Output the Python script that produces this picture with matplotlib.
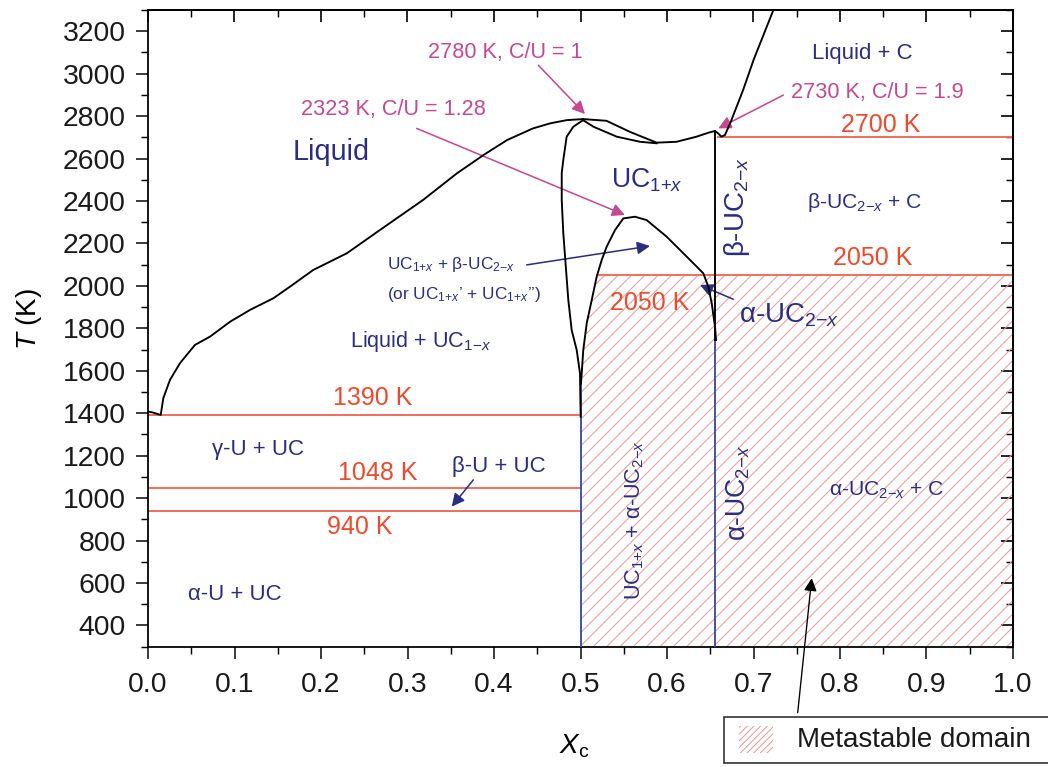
"""U-C phase diagram, T vs X_c, with the metastable domain hatched.

Values read off the reference figure; curves are piecewise linear through
the digitised points.
"""
import numpy as np
import matplotlib
matplotlib.use("Agg")
import matplotlib.pyplot as plt
from matplotlib.patches import Polygon, Rectangle
from matplotlib.ticker import MultipleLocator, FormatStrFormatter

DPI = 80
W_PX, H_PX = 1048, 767

NAVY = "#2b2e7e"
MAGENTA = "#c24a8f"
ORANGE_TXT = "#e94b2e"
ORANGE_LINE = "#f06a55"
BLUE_LINE = "#3e4f9f"
HATCH = "#e49c9c"

# ---------------------------------------------------------------------------
# Digitised data
# ---------------------------------------------------------------------------

# liquidus, U side -> congruent melting of UC (2780 K)
liq_u_x = [0.0, 0.006, 0.0147, 0.0177, 0.0254, 0.037, 0.0543, 0.0717, 0.0948,
           0.118, 0.145, 0.164, 0.191, 0.230, 0.268, 0.318, 0.357, 0.388,
           0.415, 0.445, 0.465, 0.484, 0.503]
liq_u_T = [1408, 1403, 1392, 1471, 1557, 1636, 1722, 1761, 1831,
           1887, 1942, 1996, 2075, 2154, 2263, 2405, 2530, 2617,
           2687, 2742, 2766, 2781, 2786]

# liquidus, C side (through the 2730 K maximum and up to the top)
liq_c_x = [0.503, 0.530, 0.557, 0.588, 0.611, 0.634, 0.648, 0.6555, 0.659,
           0.663, 0.667, 0.673, 0.688, 0.700, 0.723]
liq_c_T = [2786, 2778, 2726, 2675, 2679, 2703, 2722, 2730, 2719,
           2703, 2711, 2766, 2923, 3064, 3300]

# solidus of UC1+x on the C-rich side
sol_r_x = [0.503, 0.515, 0.542, 0.569, 0.588]
sol_r_T = [2781, 2750, 2703, 2679, 2672]

# UC1+x boundary on the U-rich side
uc_l_x = [0.503, 0.4917, 0.484, 0.4801, 0.4783, 0.4783, 0.4801, 0.4859,
          0.4898, 0.4956, 0.4994, 0.5002]
uc_l_T = [2781, 2750, 2703, 2593, 2532, 2405, 2249, 1934,
          1792, 1698, 1588, 1384]

# miscibility dome UC1+x + beta-UC2-x (max 2323 K)
dome_x = [0.5005, 0.5014, 0.5032, 0.5072, 0.513, 0.5187, 0.5245, 0.5303,
          0.5399, 0.5495, 0.563, 0.5765, 0.5996, 0.6188, 0.6343, 0.642,
          0.6478, 0.6517, 0.6555, 0.6567]
dome_T = [1540, 1588, 1698, 1824, 1934, 2043, 2122, 2185,
          2263, 2318, 2326, 2310, 2232, 2154, 2091, 2059,
          1996, 1918, 1808, 1745]

# UC2-x boundary (black above, blue line compound below)
uc2_x = 0.656
uc2_T_top, uc2_T_bot = 2730, 1745
uc_blue_T = 1549

# isotherms
iso_T = [1390, 1048, 940, 2050, 2700]
iso_x0 = [0.0, 0.0, 0.0, 0.5191, 0.659]
iso_x1 = [0.5, 0.5, 0.5, 1.0, 1.0]

T_MIN, T_MAX = 300, 3300

SUB_P = r"$_{1{+}x}$"
SUB_M = r"$_{2{-}x}$"
SUB_UM = r"$_{1{-}x}$"


def arrow(ax, tail, tip, color, lw=1.4, scale=24, clip=True):
    ax.annotate("", xy=tip, xytext=tail, annotation_clip=clip,
                arrowprops=dict(arrowstyle="-|>", color=color, lw=lw,
                                mutation_scale=scale, shrinkA=0, shrinkB=0))


def label(ax, x, y, s, color, size, **kw):
    ax.text(x, y, s, color=color, fontsize=size, ha=kw.pop("ha", "center"),
            va="center", zorder=6, **kw)


def main():
    plt.rcParams.update({
        "font.family": ["Liberation Sans", "DejaVu Sans"],
        "mathtext.fontset": "custom",
        "mathtext.rm": "Liberation Sans",
        "mathtext.it": "Liberation Sans:italic",
        "mathtext.bf": "Liberation Sans:bold",
        "mathtext.sf": "Liberation Sans",
        "hatch.linewidth": 0.9,
        "hatch.color": HATCH,
    })

    fig = plt.figure(figsize=(W_PX / DPI, H_PX / DPI), dpi=DPI)
    ax = fig.add_axes([148 / W_PX, 120.3 / H_PX, 865 / W_PX, 636.7 / H_PX])
    ax.set_xlim(0, 1)
    ax.set_ylim(T_MIN, T_MAX)

    # metastable domain: below 2050 K, right of the dome / x = 0.5
    left = [(x, t) for x, t in zip(dome_x, dome_T) if t <= 2050 and x < 0.55]
    x2050 = np.interp(2050, dome_T[:10], dome_x[:10])
    poly = ([(x2050, 2050)] + left[::-1]
            + [(0.5, T_MIN), (1.0, T_MIN), (1.0, 2050)])
    ax.add_patch(Polygon(poly, closed=True, facecolor="none",
                         edgecolor=HATCH, hatch="//", lw=0, zorder=1))

    # isotherms
    for t, x0, x1 in zip(iso_T, iso_x0, iso_x1):
        ax.plot([x0, x1], [t, t], color=ORANGE_LINE, lw=1.7, zorder=2)

    # line compounds below the dome
    ax.plot([0.5, 0.5], [T_MIN, uc_blue_T], color=BLUE_LINE, lw=1.7, zorder=3)
    ax.plot([uc2_x, uc2_x], [T_MIN, uc2_T_bot], color=BLUE_LINE, lw=1.7, zorder=3)

    # phase boundaries
    kw = dict(color="black", lw=1.7, zorder=4, solid_joinstyle="round")
    ax.plot(liq_u_x, liq_u_T, **kw)
    ax.plot(liq_c_x, liq_c_T, **kw)
    ax.plot(sol_r_x, sol_r_T, **kw)
    ax.plot(uc_l_x, uc_l_T, **kw)
    ax.plot(dome_x, dome_T, **kw)
    ax.plot([uc2_x, uc2_x], [uc2_T_top, uc2_T_bot], **kw)

    # ---- labels ----------------------------------------------------------
    label(ax, 0.4127, 3102, "2780 K, C/U = 1", MAGENTA, 19.5)
    label(ax, 0.2832, 2829, "2323 K, C/U = 1.28", MAGENTA, 19.5)
    label(ax, 0.8428, 2913, "2730 K, C/U = 1.9", MAGENTA, 19.5)
    label(ax, 0.2116, 2631, "Liquid", NAVY, 26)
    label(ax, 0.2763, 2099, "UC" + SUB_P + " + β-UC" + SUB_M, NAVY, 15.5, ha="left")
    label(ax, 0.2763, 1958, "(or UC" + SUB_P + "’ + UC" + SUB_P + "’’)", NAVY, 15.5,
          ha="left")
    label(ax, 0.8254, 3097, "Liquid + C", NAVY, 20)
    label(ax, 0.8474, 2758, "2700 K", ORANGE_TXT, 22.5)
    label(ax, 0.5769, 2499, "UC" + SUB_P, NAVY, 24)
    label(ax, 0.6809, 2372, "β-UC" + SUB_M, NAVY, 25, rotation=90)
    label(ax, 0.8289, 2395, "β-UC" + SUB_M + " + C", NAVY, 19)
    label(ax, 0.8382, 2132, "2050 K", ORANGE_TXT, 22.5)
    label(ax, 0.5803, 1920, "2050 K", ORANGE_TXT, 22.5)
    label(ax, 0.7410, 1864, "α-UC" + SUB_M, NAVY, 25)
    label(ax, 0.3156, 1736, "Liquid + UC" + SUB_UM, NAVY, 19.5)
    label(ax, 0.2601, 1472, "1390 K", ORANGE_TXT, 22.5)
    label(ax, 0.1272, 1227, "γ-U + UC", NAVY, 20)
    label(ax, 0.2659, 1119, "1048 K", ORANGE_TXT, 22.5)
    label(ax, 0.4058, 1147, "β-U + UC", NAVY, 20)
    label(ax, 0.2451, 864, "940 K", ORANGE_TXT, 22.5)
    label(ax, 0.1006, 544, "α-U + UC", NAVY, 20)
    label(ax, 0.5630, 897, "UC" + SUB_P + " + α-UC" + SUB_M, NAVY, 19.5, rotation=90)
    label(ax, 0.6821, 1024, "α-UC" + SUB_M, NAVY, 24, rotation=90)
    label(ax, 0.8543, 1038, "α-UC" + SUB_M + " + C", NAVY, 19)

    # ---- arrows ----------------------------------------------------------
    arrow(ax, (0.4512, 3040), (0.5052, 2810), MAGENTA)
    arrow(ax, (0.3106, 2742), (0.5514, 2334), MAGENTA)
    arrow(ax, (0.7345, 2899), (0.6593, 2742), MAGENTA)
    arrow(ax, (0.4378, 2099), (0.5803, 2188), NAVY)
    arrow(ax, (0.6767, 1937), (0.6382, 2004), NAVY)
    arrow(ax, (0.3761, 1086), (0.3511, 960), NAVY)
    arrow(ax, (0.7511, -11), (0.7673, 623), "black", lw=1.2, clip=False)

    # ---- axes ------------------------------------------------------------
    for s in ax.spines.values():
        s.set_linewidth(1.6)
    ax.xaxis.set_major_locator(MultipleLocator(0.1))
    ax.xaxis.set_minor_locator(MultipleLocator(0.05))
    ax.xaxis.set_major_formatter(FormatStrFormatter("%.1f"))
    ax.set_yticks(np.arange(400, 3201, 200))
    ax.yaxis.set_minor_locator(MultipleLocator(100))
    ax.tick_params(which="major", direction="out", length=11, width=1.5,
                   labelsize=25.5, colors="#1a1a1a")
    ax.tick_params(which="minor", direction="out", length=6, width=1.3)
    ax.tick_params(axis="x", which="major", pad=12)
    ax.tick_params(axis="y", which="major", pad=9)

    top = ax.secondary_xaxis("top")
    top.xaxis.set_major_locator(MultipleLocator(0.1))
    top.xaxis.set_minor_locator(MultipleLocator(0.05))
    top.tick_params(which="major", direction="in", length=11, width=1.5,
                    labeltop=False)
    top.tick_params(which="minor", direction="in", length=6, width=1.3)
    top.spines["top"].set_linewidth(1.6)

    right = ax.secondary_yaxis("right")
    right.set_yticks(np.arange(400, 3201, 200))
    right.yaxis.set_minor_locator(MultipleLocator(100))
    right.tick_params(which="major", direction="in", length=11, width=1.5,
                      labelright=False)
    right.tick_params(which="minor", direction="in", length=6, width=1.3)
    right.spines["right"].set_linewidth(1.6)

    ax.set_xlabel(r"$X_\mathrm{c}$", fontsize=25)
    ax.xaxis.set_label_coords(0.4925, -0.135)
    ax.set_ylabel(r"$T$ (K)", fontsize=25)
    ax.yaxis.set_label_coords(-0.12, 0.515)

    # key box, bottom right (runs off the right edge like the original)
    tf = fig.transFigure
    fig.patches.append(Rectangle((724 / W_PX, 4 / H_PX), 340 / W_PX, 46 / H_PX,
                                 transform=tf, facecolor="white",
                                 edgecolor="#333333", lw=1.5, zorder=5))
    fig.patches.append(Rectangle((739 / W_PX, 14 / H_PX), 34 / W_PX, 27 / H_PX,
                                 transform=tf, facecolor="none", edgecolor=HATCH,
                                 hatch="////", lw=0, zorder=6))
    fig.text(797 / W_PX, 27 / H_PX, "Metastable domain", fontsize=25,
             ha="left", va="center", color="#1a1a1a", zorder=7)

    fig.savefig("out.png", dpi=DPI)
    plt.close(fig)


if __name__ == "__main__":
    main()
